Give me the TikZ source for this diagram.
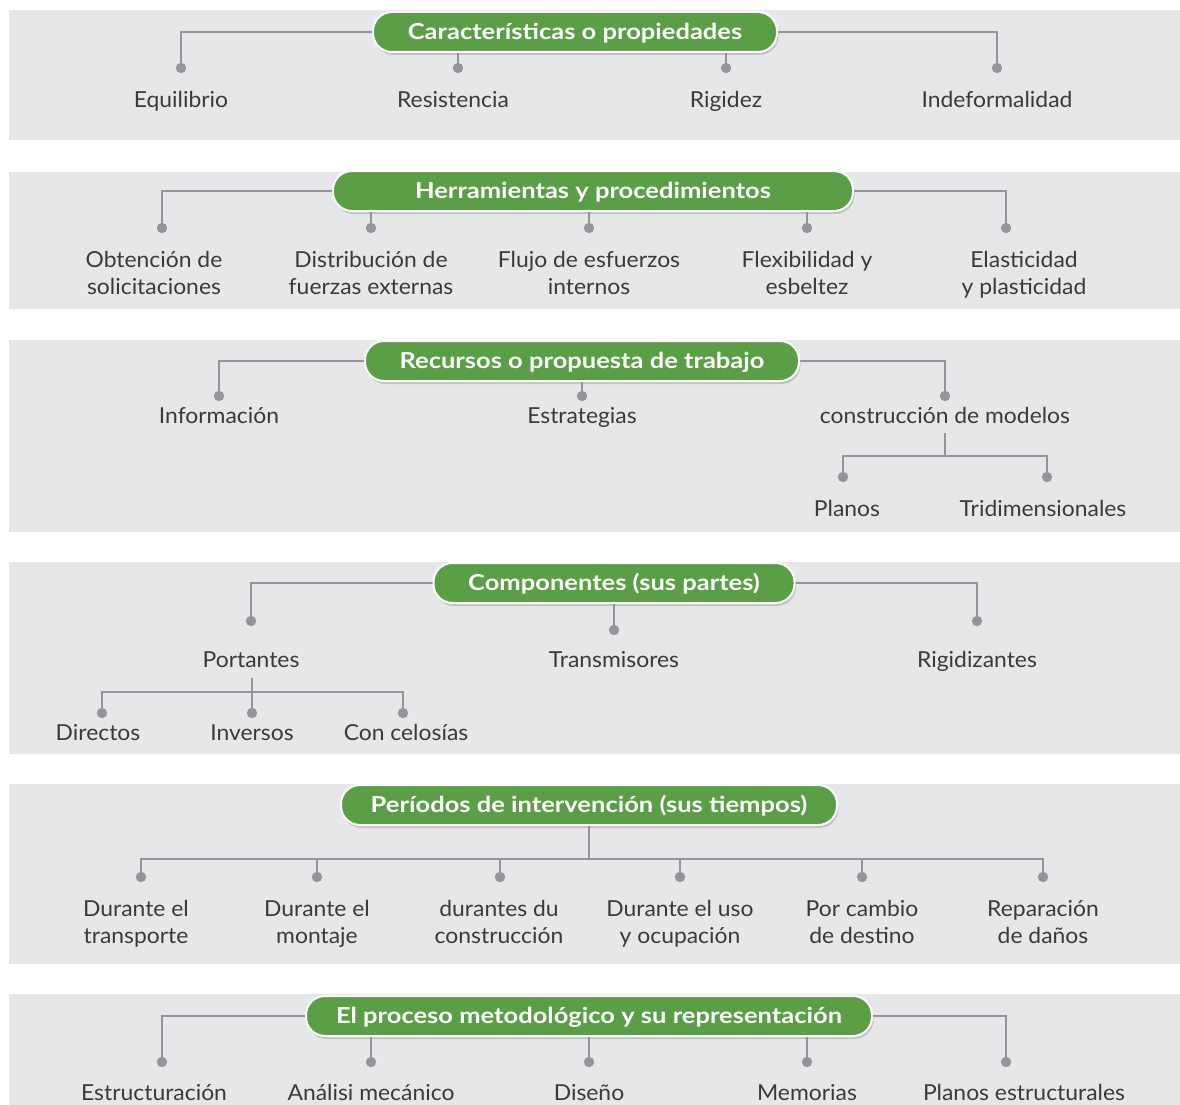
\documentclass[tikz,border=0pt]{standalone}
\usepackage{fontspec}
\setmainfont{Lato}[FakeStretch=1.04]
\newfontfamily\hfont{Lato}[FakeStretch=1.16]
\usetikzlibrary{shadows}
\definecolor{panelgray}{HTML}{E6E7E8}
\definecolor{linegray}{HTML}{939598}
\definecolor{hgreen}{HTML}{5A9E46}
\definecolor{txt}{HTML}{3A3A3A}
\tikzset{
  panel/.style={fill=panelgray, draw=none},
  header/.style={fill=hgreen, draw=white, line width=2pt, rounded corners=19pt,
    minimum height=40pt, inner sep=0pt, text=white, text height=15.8pt, text depth=0pt,
    font=\hfont\fontsize{22}{24}\selectfont\bfseries,
    drop shadow={opacity=0.35, shadow xshift=1.5pt, shadow yshift=-3pt}},
  lbl/.style={text=txt, align=center, inner sep=0pt,
    font=\fontsize{22}{27}\selectfont,
    execute at begin node=\strut, execute at end node=\strut},
  conn/.style={draw=linegray, line width=2.6pt},
  dotc/.style={fill=linegray, draw=none},
}
\newcommand{\mydot}[1]{\fill[dotc] (#1) circle (5.2pt);}
\begin{document}
\begin{tikzpicture}[x=1pt,y=-1pt]
\useasboundingbox (0,0) rectangle (1180,1105);
% panels
\fill[panel] (9,10) rectangle (1180,140);
\fill[panel] (9,172) rectangle (1180,309);
\fill[panel] (9,340) rectangle (1180,532);
\fill[panel] (9,562) rectangle (1180,754);
\fill[panel] (9,784) rectangle (1180,964);
\fill[panel] (9,994) rectangle (1180,1105);

% ---------- Panel 1 ----------
\coordinate (d11) at (181,68);
\coordinate (d12) at (458,68);
\coordinate (d13) at (726,68);
\coordinate (d14) at (997,68);
\draw[conn] (575,32) -| (d11);
\draw[conn] (575,32) -| (d14);
\draw[conn] (d12) -- (458,45);
\draw[conn] (d13) -- (726,45);
\node[header, minimum width=404pt] (h1) at (575,32) {Características o propiedades};
\foreach \d in {d11,d12,d13,d14} {\mydot{\d}}
\node[lbl] (l11) at (181,102.5) {Equilibrio};
\node[lbl] (l12) at (453,102.5) {Resistencia};
\node[lbl] (l13) at (726,102.5) {Rigidez};
\node[lbl] (l14) at (997,102.5) {Indeformalidad};

% ---------- Panel 2 ----------
\coordinate (d21) at (162,228);
\coordinate (d22) at (371,228);
\coordinate (d23) at (589,228);
\coordinate (d24) at (807,228);
\coordinate (d25) at (1006,228);
\draw[conn] (593,191) -| (d21);
\draw[conn] (593,191) -| (d25);
\draw[conn] (d22) -- (371,205);
\draw[conn] (d23) -- (589,205);
\draw[conn] (d24) -- (807,205);
\node[header, minimum width=520pt] (h2) at (593,191) {Herramientas y procedimientos};
\foreach \d in {d21,d22,d23,d24,d25} {\mydot{\d}}
\node[lbl] (l21) at (154,276) {Obtención de\strut\\solicitaciones};
\node[lbl] (l22) at (371,276) {Distribución de\strut\\fuerzas externas};
\node[lbl] (l23) at (589,276) {Flujo de esfuerzos\strut\\internos};
\node[lbl] (l24) at (807,276) {Flexibilidad y\strut\\esbeltez};
\node[lbl] (l25) at (1024,276) {Elasticidad\strut\\y plasticidad};

% ---------- Panel 3 ----------
\coordinate (d31) at (219,396);
\coordinate (d32) at (582,396);
\coordinate (d33) at (945,396);
\draw[conn] (582,361) -| (d31);
\draw[conn] (582,361) -| (d33);
\draw[conn] (d32) -- (582,375);
\node[header, minimum width=434pt] (h3) at (582,361) {Recursos o propuesta de trabajo};
\foreach \d in {d31,d32,d33} {\mydot{\d}}
\node[lbl] (l31) at (219,418.5) {Información};
\node[lbl] (l32) at (582,418.5) {Estrategias};
\node[lbl] (l33) at (945,418.5) {construcción de modelos};
\coordinate (d34) at (843,477);
\coordinate (d35) at (1047,477);
\draw[conn] (945,433) -- (945,456);
\draw[conn] (d34) |- (945,456) -| (d35);
\foreach \d in {d34,d35} {\mydot{\d}}
\node[lbl] (l34) at (847,511.5) {Planos};
\node[lbl] (l35) at (1043,511.5) {Tridimensionales};

% ---------- Panel 4 ----------
\coordinate (d41) at (251,621);
\coordinate (d42) at (614,630);
\coordinate (d43) at (977,621);
\draw[conn] (614,583) -| (d41);
\draw[conn] (614,583) -| (d43);
\draw[conn] (d42) -- (614,597);
\node[header, minimum width=361pt] (h4) at (614,583) {Componentes (sus partes)};
\foreach \d in {d41,d42,d43} {\mydot{\d}}
\node[lbl] (l41) at (251,662.5) {Portantes};
\node[lbl] (l42) at (614,662.5) {Transmisores};
\node[lbl] (l43) at (977,662.5) {Rigidizantes};
\coordinate (d44) at (102,713);
\coordinate (d45) at (252,713);
\coordinate (d46) at (403,713);
\draw[conn] (252,678) -- (d45);
\draw[conn] (d44) |- (252,692) -| (d46);
\foreach \d in {d44,d45,d46} {\mydot{\d}}
\node[lbl] (l44) at (98,735.5) {Directos};
\node[lbl] (l45) at (252,735.5) {Inversos};
\node[lbl] (l46) at (406,735.5) {Con celosías};

% ---------- Panel 5 ----------
\coordinate (d51) at (141,877);
\coordinate (d52) at (317,877);
\coordinate (d53) at (500,877);
\coordinate (d54) at (680,877);
\coordinate (d55) at (862,877);
\coordinate (d56) at (1043,877);
\draw[conn] (589,815) -- (589,859);
\draw[conn] (d51) |- (589,859) -| (d56);
\foreach \d in {d52,d53,d54,d55} {\draw[conn] (\d) -- (\d |- 0,859);}
\node[header, minimum width=496pt] (h5) at (589,805) {Períodos de intervención (sus tiempos)};
\foreach \d in {d51,d52,d53,d54,d55,d56} {\mydot{\d}}
\node[lbl] (l51) at (136,925) {Durante el\strut\\transporte};
\node[lbl] (l52) at (317,925) {Durante el\strut\\montaje};
\node[lbl] (l53) at (499,925) {durantes du\strut\\construcción};
\node[lbl] (l54) at (680,925) {Durante el uso\strut\\y ocupación};
\node[lbl] (l55) at (862,925) {Por cambio\strut\\de destino};
\node[lbl] (l56) at (1043,925) {Reparación\strut\\de daños};

% ---------- Panel 6 ----------
\coordinate (d61) at (162,1062);
\coordinate (d62) at (371,1062);
\coordinate (d63) at (589,1062);
\coordinate (d64) at (807,1062);
\coordinate (d65) at (1006,1062);
\draw[conn] (589,1016) -| (d61);
\draw[conn] (589,1016) -| (d65);
\draw[conn] (d62) -- (371,1030);
\draw[conn] (d63) -- (589,1030);
\draw[conn] (d64) -- (807,1030);
\node[header, minimum width=566pt] (h6) at (589,1016) {El proceso metodológico y su representación};
\foreach \d in {d61,d62,d63,d64,d65} {\mydot{\d}}
\node[lbl] (l61) at (154,1095.5) {Estructuración};
\node[lbl] (l62) at (371,1095.5) {Análisi mecánico};
\node[lbl] (l63) at (589,1095.5) {Diseño};
\node[lbl] (l64) at (807,1095.5) {Memorias};
\node[lbl] (l65) at (1024,1095.5) {Planos estructurales};
\end{tikzpicture}
\end{document}
